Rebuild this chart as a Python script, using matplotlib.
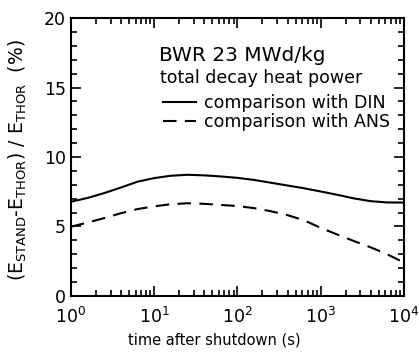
import numpy as np
import matplotlib
matplotlib.use("Agg")
import matplotlib.pyplot as plt
from matplotlib.ticker import LogLocator, MultipleLocator, NullFormatter

plt.rcParams['font.family'] = ['DejaVu Sans']
plt.rcParams['mathtext.default'] = 'regular'

# time after shutdown (s), log-spaced sample points
log_t = [0, 0.2, 0.4, 0.6, 0.8, 1.0, 1.2, 1.4, 1.6, 1.8, 2.0,
         2.2, 2.4, 2.6, 2.8, 3.0, 3.2, 3.4, 3.6, 3.8, 4.0]
din = [6.78, 7.05, 7.4, 7.8, 8.22, 8.48, 8.65, 8.72, 8.68, 8.6, 8.5,
       8.35, 8.15, 7.95, 7.75, 7.52, 7.28, 7.02, 6.82, 6.73, 6.72]
ans = [4.98, 5.28, 5.6, 5.95, 6.25, 6.45, 6.6, 6.67, 6.63, 6.55, 6.47,
       6.32, 6.1, 5.82, 5.45, 4.9, 4.42, 3.95, 3.5, 3.0, 2.4]

t = [10 ** v for v in log_t]

fig = plt.figure(figsize=(4.19, 3.54), dpi=100)
ax = fig.add_axes([0.169, 0.164, 0.795, 0.785])

ax.plot(t, din, color='black', lw=1.5, label='comparison with DIN')
ax.plot(t, ans, color='black', lw=1.5, ls=(0, (6.5, 4)), label='comparison with ANS')

ax.set_xscale('log')
ax.set_xlim(1, 1e4)
ax.set_ylim(0, 20)
ax.yaxis.set_major_locator(MultipleLocator(5))
ax.yaxis.set_minor_locator(MultipleLocator(1))
ax.xaxis.set_minor_locator(LogLocator(base=10, subs=np.arange(2, 10)))
ax.xaxis.set_minor_formatter(NullFormatter())

ax.tick_params(which='both', direction='in', top=True, right=True,
               labelsize=12.5, width=1.2)
ax.tick_params(which='major', length=7)
ax.tick_params(which='minor', length=4)
ax.tick_params(axis='x', pad=8)
for s in ax.spines.values():
    s.set_linewidth(1.5)

ax.set_xlabel('time after shutdown (s)', fontsize=10.5)
ax.xaxis.set_label_coords(0.43, -0.13)
ax.set_ylabel(r'(E$_{STAND}$-E$_{THOR}$) / E$_{THOR}$  (%)', fontsize=13.5)
ax.yaxis.set_label_coords(-0.125, 0.49)

ax.text(0.266, 0.865, 'BWR 23 MWd/kg', transform=ax.transAxes,
        fontsize=14.5, va='center')
ax.text(0.268, 0.785, 'total decay heat power', transform=ax.transAxes,
        fontsize=12.5, va='center')
ax.legend(loc='upper left', bbox_to_anchor=(0.24, 0.77), frameon=False,
          fontsize=12.5, handlelength=1.9, handletextpad=0.45,
          labelspacing=0.05, borderpad=0.2)

fig.savefig('out.png', dpi=100)
